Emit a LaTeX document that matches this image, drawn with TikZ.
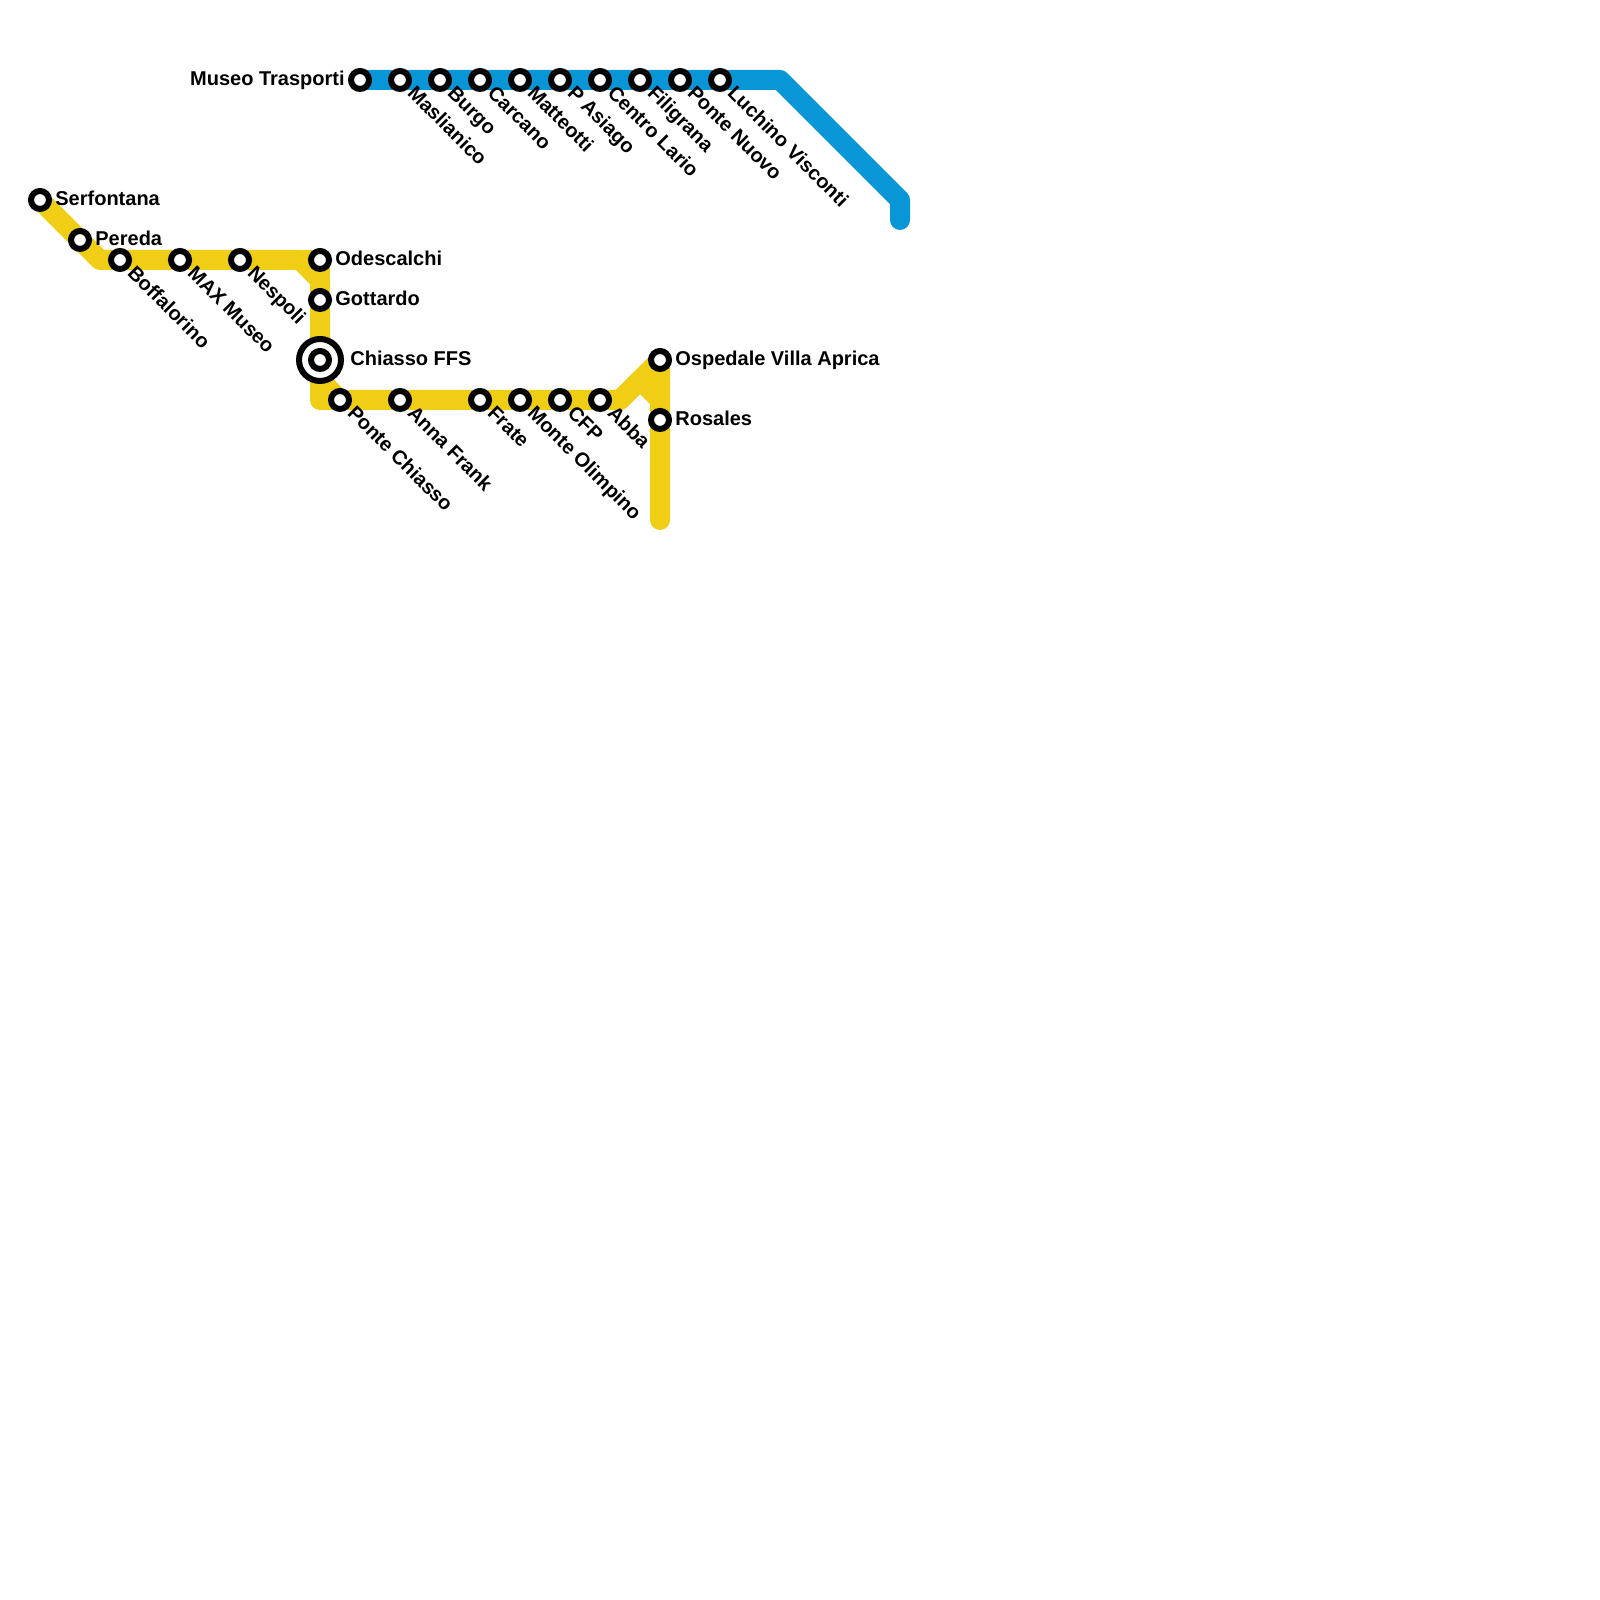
\documentclass[tikz,border=0pt]{standalone}
\usepackage{fontspec}
\setmainfont{Liberation Sans}
\usetikzlibrary{backgrounds}
\tikzset{
  line/.style={line width=0.2cm,line cap=round,line join=round},
  stn/.style={circle,draw=black,fill=white,line width=0.06cm,minimum size=0.18cm,inner sep=0pt,outer sep=0pt},
  hub/.style={circle,draw=black,fill=white,line width=0.06cm,minimum size=0.42cm,inner sep=0pt,outer sep=0pt},
  lbl/.style={font=\fontsize{5.69pt}{7pt}\selectfont\bfseries,inner sep=0pt},
  lblr/.style={lbl,anchor=base west,xshift=0.147cm,yshift=-0.058cm},
  lbll/.style={lbl,anchor=base east,xshift=-0.147cm,yshift=-0.058cm},
  lbld/.style={lbl,anchor=base west,rotate=-45,xshift=0.14cm,yshift=-0.055cm},
}
\begin{document}
\begin{tikzpicture}
%
\useasboundingbox (0,0) rectangle (16cm,16cm);
%
\definecolor{cyellow}{HTML}{F0CE15}
\definecolor{cblue}{HTML}{0896D7}
%
\coordinate (ybend0) at (1.0,13.4);
\coordinate (ybend1) at (3.0,13.4);
\coordinate (ybend2) at (3.2,13.4);
\coordinate (ybend3) at (3.2,13.2);
\coordinate (ybend4) at (3.2,12.2);
\coordinate (ybend5) at (3.2,12.0);
\coordinate (ybend6) at (6.2,12.0);
\coordinate (ybend7) at (6.4,12.2);
\coordinate (ybend8) at (6.6,12.0);
\coordinate (yend) at (6.6,10.8);
\coordinate (bbend0) at (7.8,15.2);
\coordinate (bbend1) at (9.0,14.0);
\coordinate (bend) at (9.0,13.8);
%
\node[hub] (chiassoring) at (3.2,12.4) {};
\node[stn] (chiasso) at (3.2,12.4) {};
\node[stn] (serfontana) at (0.4,14.0) {};
\node[stn] (pereda) at (0.8,13.6) {};
\node[stn] (boffalorino) at (1.2,13.4) {};
\node[stn] (maxmuseo) at (1.8,13.4) {};
\node[stn] (nespoli) at (2.4,13.4) {};
\node[stn] (odescalchi) at (3.2,13.4) {};
\node[stn] (gottardo) at (3.2,13.0) {};
\node[stn] (pontechiasso) at (3.4,12.0) {};
\node[stn] (annafrank) at (4.0,12.0) {};
\node[stn] (frate) at (4.8,12.0) {};
\node[stn] (olimpino) at (5.2,12.0) {};
\node[stn] (cfp) at (5.6,12.0) {};
\node[stn] (abba) at (6.0,12.0) {};
\node[stn] (ospedale) at (6.6,12.4) {};
\node[stn] (rosales) at (6.6,11.8) {};
%
\node[stn] (trasporti) at (3.6,15.2) {};
\node[stn] (maslianico) at (4.0,15.2) {};
\node[stn] (burgo) at (4.4,15.2) {};
\node[stn] (carcano) at (4.8,15.2) {};
\node[stn] (matteotti) at (5.2,15.2) {};
\node[stn] (asiago) at (5.6,15.2) {};
\node[stn] (lario) at (6.0,15.2) {};
\node[stn] (filigrana) at (6.4,15.2) {};
\node[stn] (pontenuovo) at (6.8,15.2) {};
\node[stn] (visconti) at (7.2,15.2) {};
%
\begin{scope}[on background layer]
\draw[line,cyellow] (serfontana.center) -- (ybend0) -- (ybend1) -- (ybend3) -- (ybend5) -- (ybend6) -- (ospedale.center) -- (yend);
\draw[line,cyellow] (ybend1) -- (ybend2) -- (ybend3);
\draw[line,cyellow] (ybend4) -- (pontechiasso.center);
\draw[line,cyellow] (ybend6) -- (ybend7) -- (ybend8);
\draw[line,cblue] (trasporti.center) -- (bbend0) -- (bbend1) -- (bend);
\end{scope}
%
\node[lblr] (lserfontana) at (0.4,14.0) {Serfontana};
\node[lblr] (lpereda) at (0.8,13.6) {Pereda};
\node[lblr] (lodescalchi) at (3.2,13.4) {Odescalchi};
\node[lblr] (lgottardo) at (3.2,13.0) {Gottardo};
\node[lblr,xshift=0.15cm] (lchiasso) at (3.2,12.4) {Chiasso FFS};
\node[lblr] (lospedale) at (6.6,12.4) {Ospedale Villa Aprica};
\node[lblr] (lrosales) at (6.6,11.8) {Rosales};
\node[lbll] (ltrasporti) at (3.6,15.2) {Museo Trasporti};
%
\node[lbld] (lboffalorino) at (1.2,13.4) {Boffalorino};
\node[lbld] (lmaxmuseo) at (1.8,13.4) {MAX Museo};
\node[lbld] (lnespoli) at (2.4,13.4) {Nespoli};
\node[lbld] (lpontechiasso) at (3.4,12.0) {Ponte Chiasso};
\node[lbld] (lannafrank) at (4.0,12.0) {Anna Frank};
\node[lbld] (lfrate) at (4.8,12.0) {Frate};
\node[lbld] (lolimpino) at (5.2,12.0) {Monte Olimpino};
\node[lbld] (lcfp) at (5.6,12.0) {CFP};
\node[lbld] (labba) at (6.0,12.0) {Abba};
\node[lbld] (lmaslianico) at (4.0,15.2) {Maslianico};
\node[lbld] (lburgo) at (4.4,15.2) {Burgo};
\node[lbld] (lcarcano) at (4.8,15.2) {Carcano};
\node[lbld] (lmatteotti) at (5.2,15.2) {Matteotti};
\node[lbld] (lasiago) at (5.6,15.2) {P Asiago};
\node[lbld] (llario) at (6.0,15.2) {Centro Lario};
\node[lbld] (lfiligrana) at (6.4,15.2) {Filigrana};
\node[lbld] (lpontenuovo) at (6.8,15.2) {Ponte Nuovo};
\node[lbld] (lvisconti) at (7.2,15.2) {Luchino Visconti};
%
\end{tikzpicture}
\end{document}
